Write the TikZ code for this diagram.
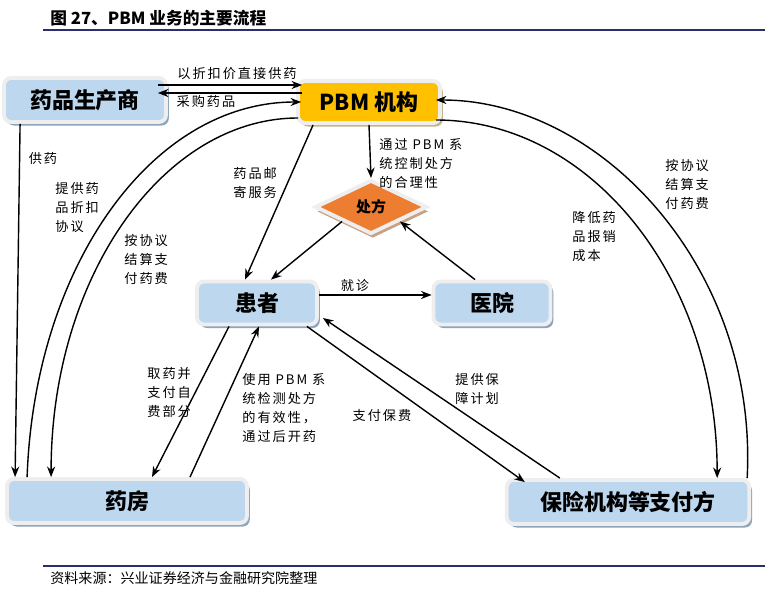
\documentclass[tikz,border=0pt]{standalone}
\usepackage{fontspec}
\setmainfont{Noto Sans CJK SC}
\newfontfamily\lblfont{Noto Sans CJK SC}[LetterSpace=15]
\usetikzlibrary{arrows.meta, positioning, shapes.geometric, calc, shadows}

\definecolor{boxblue}{RGB}{189,215,238}
\definecolor{boxedge}{RGB}{238,238,238}
\definecolor{blueshade}{RGB}{140,165,190}
\definecolor{pbmgold}{RGB}{255,192,0}
\definecolor{tanshade}{RGB}{196,180,140}
\definecolor{rxorange}{RGB}{237,125,49}
\definecolor{rxshade}{RGB}{200,160,130}
\definecolor{rulenavy}{RGB}{45,45,110}

\begin{document}
\begin{tikzpicture}[x=0.02cm, y=0.02cm,
  box/.style={draw=boxedge, line width=2.2pt, rounded corners=4pt, fill=boxblue,
              inner sep=0pt, font=\fontsize{12.5}{14}\selectfont\bfseries,
              drop shadow={shadow xshift=1.6pt, shadow yshift=-2pt, fill=#1, opacity=1}},
  box/.default=blueshade,
  lbl/.style={font=\lblfont\fontsize{7.5}{10.8}\selectfont, align=left, inner sep=0pt},
  arr/.style={-{Stealth[length=6pt, width=4.6pt]}, line width=0.8pt},
  ln/.style={line width=0.8pt}
]
  \useasboundingbox (0,0) rectangle (765,-589);

  % title and source
  \node[anchor=west, inner sep=0pt, font=\fontsize{9.5}{11}\selectfont\bfseries] (title) at (50,-18) {图 27、PBM 业务的主要流程};
  \draw[rulenavy, line width=1.4pt] (43,-30) -- (765,-30);
  \draw[rulenavy, line width=0.7pt] (43,-566) -- (765,-566);
  \node[anchor=west, inner sep=0pt, font=\fontsize{8}{10}\selectfont] (source) at (50,-578) {资料来源：兴业证券经济与金融研究院整理};

  % parties
  \node[box, minimum width=3.24cm, minimum height=0.88cm] (maker) at (85,-100) {药品生产商};
  \node[box=tanshade, fill=pbmgold, minimum width=2.84cm, minimum height=0.84cm] (pbm) at (369,-102) {PBM 机构};
  \node[diamond, draw=boxedge, line width=2.2pt, fill=rxorange, inner sep=0pt,
        minimum width=2.24cm, minimum height=1.08cm, font=\fontsize{8.5}{10}\selectfont\bfseries,
        drop shadow={shadow xshift=1pt, shadow yshift=-2.5pt, fill=rxshade, opacity=1}] (rx) at (371,-207) {处方};
  \node[box, minimum width=2.4cm, minimum height=0.86cm] (patient) at (257,-303) {患者};
  \node[box, minimum width=2.34cm, minimum height=0.86cm] (hospital) at (492,-303) {医院};
  \node[box, minimum width=4.8cm, minimum height=0.88cm] (pharmacy) at (127,-501) {药房};
  \node[box, minimum width=4.85cm, minimum height=0.88cm] (payer) at (628,-502) {保险机构等支付方};

  % maker <-> pbm
  \draw[arr] ($(maker.east)+(-10,15)$) -- ($(pbm.west)+(6,17)$);
  \draw[arr] ($(pbm.west)+(6,9)$) -- ($(maker.east)+(-10,7)$);
  \node[lbl] (direct) at (237,-74) {以折扣价直接供药};
  \node[lbl] (purchase) at (206,-101) {采购药品};

  % maker -> pharmacy
  \draw[arr] ($(maker.south west)+(18,0)$) -- ($(pharmacy.north west)+(10,0)$);
  \node[lbl] (supply) at (43,-158) {供药};

  % left arcs
  \draw[arr] ($(pharmacy.north west)+(22,0)$) to[out=88, in=180, out distance=4.2cm, in distance=3cm] ($(pbm.west)+(5,0)$);
  \draw[arr] ($(pbm.west)+(2,-16)$) to[out=180, in=90, out distance=2.7cm, in distance=4cm] ($(pharmacy.north west)+(46,0)$);
  \node[lbl, anchor=north west] (discount) at (55,-182) {提供药\\品折扣\\协议};
  \node[lbl, anchor=north west] (payleft) at (124,-234) {按协议\\结算支\\付药费};

  % right arcs
  \draw[arr] ($(payer.north east)+(-4,0)$) to[out=87, in=0, out distance=4.2cm, in distance=3.3cm] ($(pbm.east)+(-6,2)$);
  \draw[arr] ($(pbm.east)+(-6,-18)$) to[out=0, in=90, out distance=3.1cm, in distance=4cm] ($(payer.north east)+(-34,0)$);
  \node[lbl, anchor=north west] (payright) at (665,-159) {按协议\\结算支\\付药费};
  \node[lbl, anchor=north west] (cost) at (572,-211) {降低药\\品报销\\成本};

  % pbm -> patient, prescription
  \draw[arr] ($(pbm.south west)+(17,0)$) -- ($(patient.north)+(-12,0)$);
  \node[lbl, anchor=north west] (mail) at (233,-167) {药品邮\\寄服务};
  \draw[arr] (pbm.south) -- (rx.north);
  \node[lbl, anchor=north west] (control) at (379,-138) {通过 PBM 系\\统控制处方\\的合理性};
  \draw[arr] (rx.south west) -- ($(patient.north)+(14,0)$);
  \draw[arr] ($(hospital.north)+(-17,0)$) -- (rx.south east);

  % patient <-> hospital
  \draw[arr] ($(patient.east)+(0,8)$) -- ($(hospital.west)+(0,8)$);
  \node[lbl] (visit) at (355,-285) {就诊};

  % patient <-> payer
  \draw[arr] ($(payer.north west)+(55,0)$) -- ($(patient.east)+(4,-15)$);
  \draw[arr] ($(patient.south east)+(-12,0)$) -- ($(payer.north west)+(20,-4)$);
  \node[lbl, anchor=north west] (plan) at (455,-373) {提供保\\障计划};
  \node[lbl] (premium) at (382,-416) {支付保费};

  % patient <-> pharmacy
  \draw[arr] ($(patient.south)+(-28,0)$) -- ($(pharmacy.north)+(25,0)$);
  \draw[arr] ($(pharmacy.north)+(63,0)$) -- ($(patient.south)+(2,0)$);
  \node[lbl, anchor=north west] (selfpay) at (147,-367) {取药并\\支付自\\费部分};
  \node[lbl, anchor=north west] (check) at (242,-373) {使用 PBM 系\\统检测处方\\的有效性，\\通过后开药};
\end{tikzpicture}
\end{document}
